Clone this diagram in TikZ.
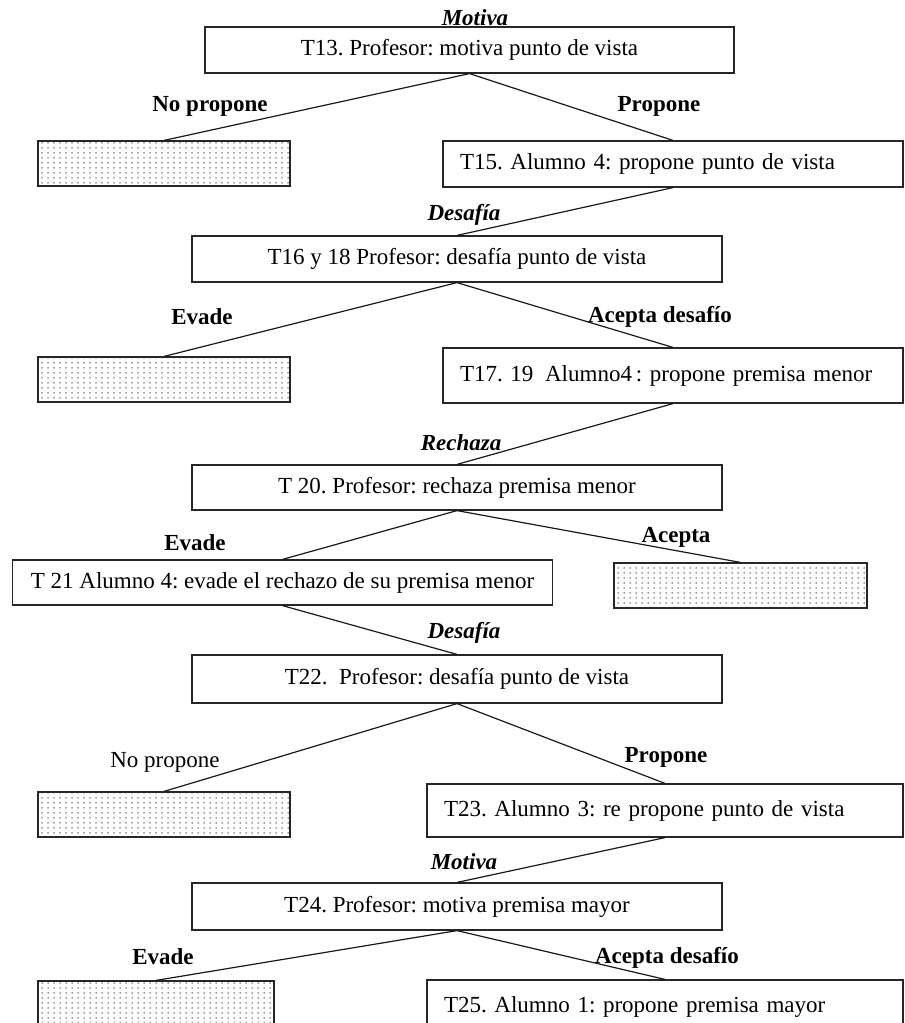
\documentclass[tikz,border=0pt]{standalone}
\usepackage{fontspec}
\setmainfont{Liberation Serif}
\usetikzlibrary{patterns}
% fine dot screen for the unused branches
\pgfdeclarepatternformonly{finedots}{\pgfqpoint{-1pt}{-1pt}}{\pgfqpoint{1pt}{1pt}}{\pgfqpoint{6pt}{5pt}}{%
  \pgfpathcircle{\pgfqpoint{0pt}{0pt}}{0.75pt}\pgfusepath{fill}}
\begin{document}
\frenchspacing
\begin{tikzpicture}[x=1pt,y=-1pt,
  box/.style={draw=black!85, line width=1.2pt, inner sep=0pt, fill=white,
    font=\fontsize{23}{26}\selectfont},
  leftbox/.style={box, align=left, text width=#1, inner xsep=17pt},
  shaded/.style={draw=black!85, line width=1.2pt, inner sep=0pt, fill=white,
    postaction={pattern=finedots, pattern color=black!75}},
  branch/.style={inner sep=0pt, font=\fontsize{23}{26}\selectfont\bfseries},
  plain/.style={inner sep=0pt, font=\fontsize{23}{26}\selectfont},
  act/.style={inner sep=0pt, font=\fontsize{23}{26}\selectfont\bfseries\itshape},
  link/.style={line width=1.2pt, black!90}
]
\useasboundingbox (0,0) rectangle (905,1023);
\clip (0,0) rectangle (905,1023);

% boxes of the dialogue turns
\node[box, minimum width=529pt, minimum height=46pt] (t13) at (469.5,50) {T13. Profesor: motiva punto de vista};
\node[shaded, minimum width=252pt, minimum height=45pt] (n1) at (164,163.5) {};
\node[leftbox=426pt, minimum height=46pt] (t15) at (673,164) {T15. Alumno 4: propone punto de vista};
\node[box, minimum width=530pt, minimum height=46pt] (t16) at (457,259) {T16 y 18 Profesor: desafía punto de vista};
\node[shaded, minimum width=252pt, minimum height=45pt] (n2) at (164,379.5) {};
\node[leftbox=426pt, minimum height=55pt] (t17) at (673,375.5) {T17. 19\hspace{4pt} Alumno4\,: propone premisa menor};
\node[box, minimum width=530pt, minimum height=45pt] (t20) at (457,487.5) {T 20. Profesor: rechaza premisa menor};
\node[box, minimum width=540pt, minimum height=45pt] (t21) at (282.5,582.5) {T 21 Alumno 4: evade el rechazo de su premisa menor};
\node[shaded, minimum width=253pt, minimum height=45pt] (n3) at (740.5,585.5) {};
\node[box, minimum width=530pt, minimum height=48pt] (t22) at (457,679) {T22.\ \ Profesor: desafía punto de vista};
\node[shaded, minimum width=252pt, minimum height=45pt] (n4) at (164,814.5) {};
\node[leftbox=442pt, minimum height=53pt] (t23) at (665,810.5) {T23. Alumno 3: re propone punto de vista};
\node[box, minimum width=530pt, minimum height=47pt] (t24) at (457,906.5) {T24. Profesor: motiva premisa mayor};
\node[shaded, minimum width=236pt, minimum height=46pt] (n5) at (156,1004) {};
\node[leftbox=442pt, minimum height=53pt] (t25) at (665,1006.5) {T25. Alumno 1: propone premisa mayor};

% connectors from each turn to its possible answers
\draw[link] (t13.south) -- (n1.north);
\draw[link] (t13.south) -- (t15.north);
\draw[link] (t15.south) -- (t16.north);
\draw[link] (t16.south) -- (n2.north);
\draw[link] (t16.south) -- (t17.north);
\draw[link] (t17.south) -- (t20.north);
\draw[link] (t20.south) -- (t21.north);
\draw[link] (t20.south) -- (n3.north);
\draw[link] (t21.south) -- (t22.north);
\draw[link] (t22.south) -- (n4.north);
\draw[link] (t22.south) -- (t23.north);
\draw[link] (t23.south) -- (t24.north);
\draw[link] (t24.south) -- (n5.north);
\draw[link] (t24.south) -- (t25.north);

% branch labels
\node[act] (l1) at (475,18) {Motiva};
\node[branch] (l2) at (210,106) {No propone};
\node[branch] (l3) at (659,106) {Propone};
\node[act] (l4) at (464,215) {Desafía};
\node[branch] (l5) at (202,317) {Evade};
\node[branch] (l6) at (660,317) {Acepta desafío};
\node[act] (l7) at (461,443) {Rechaza};
\node[branch] (l8) at (195,543) {Evade};
\node[branch] (l9) at (676,537) {Acepta};
\node[act] (l10) at (464,633) {Desafía};
\node[plain] (l11) at (165,762) {No propone};
\node[branch] (l12) at (666,757) {Propone};
\node[act] (l13) at (464,862) {Motiva};
\node[branch] (l14) at (163,957) {Evade};
\node[branch] (l15) at (667,958) {Acepta desafío};
\end{tikzpicture}
\end{document}
